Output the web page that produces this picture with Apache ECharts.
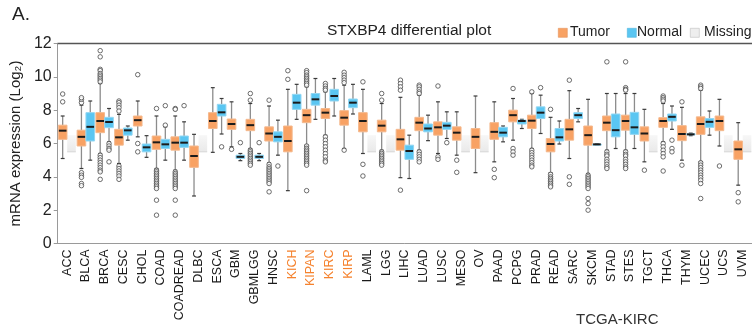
<!DOCTYPE html>
<html>
<head>
<meta charset="utf-8">
<script src="https://cdn.jsdelivr.net/npm/echarts@6/dist/echarts.min.js"></script>
<style>
html, body { margin: 0; padding: 0; background: #fff; }
#chart { width: 752px; height: 325px; }
</style>
</head>
<body>
<div id="chart"></div>
<script>
// cancer types along the x axis
const categories = ['ACC', 'BLCA', 'BRCA', 'CESC', 'CHOL', 'COAD', 'COADREAD', 'DLBC', 'ESCA', 'GBM',
  'GBMLGG', 'HNSC', 'KICH', 'KIPAN', 'KIRC', 'KIRP', 'LAML', 'LGG', 'LIHC', 'LUAD', 'LUSC', 'MESO',
  'OV', 'PAAD', 'PCPG', 'PRAD', 'READ', 'SARC', 'SKCM', 'STAD', 'STES', 'TGCT', 'THCA', 'THYM',
  'UCEC', 'UCS', 'UVM'];
const highlighted = ['KICH', 'KIPAN', 'KIRC', 'KIRP'];

// [min, Q1, median, Q3, max]
const tumorBoxes = [
  [5.1, 6.25, 6.77, 7.1, 7.65],   // ACC
  [4.5, 5.85, 6.4, 6.8, 8.3],     // BLCA
  [5.4, 6.65, 7.35, 7.85, 9.6],   // BRCA
  [4.8, 5.9, 6.37, 6.85, 7.75],   // CESC
  [6.4, 7.05, 7.4, 7.65, 8.55],   // CHOL
  [4.5, 5.65, 6.07, 6.45, 7.65],  // COAD
  [4.4, 5.6, 6.05, 6.4, 7.65],    // COADREAD
  [2.85, 4.57, 5.25, 5.85, 6.55], // DLBC
  [5.47, 6.9, 7.35, 7.85, 9.35],  // ESCA
  [5.8, 6.85, 7.17, 7.47, 8.5],   // GBM
  [5.7, 6.77, 7.1, 7.45, 8.4],    // GBMLGG
  [4.85, 6.15, 6.6, 7.0, 8.25],   // HNSC
  [3.17, 5.5, 6.15, 7.05, 9.25],  // KICH
  [5.9, 7.25, 7.7, 8.05, 9.4],    // KIPAN
  [6.5, 7.5, 7.85, 8.1, 9.1],     // KIRC
  [5.7, 7.1, 7.55, 7.97, 9.5],    // KIRP
  [5.4, 6.7, 7.35, 7.85, 9.25],   // LAML
  [5.6, 6.7, 7.07, 7.4, 8.4],     // LGG
  [3.95, 5.6, 6.25, 6.85, 8.77],  // LIHC
  [5.6, 6.77, 7.25, 7.57, 8.9],   // LUAD
  [5.4, 6.5, 6.97, 7.3, 8.5],     // LUSC
  [5.3, 6.2, 6.65, 7.0, 7.9],     // MESO
  [4.25, 5.7, 6.4, 6.9, 8.85],    // OV
  [4.9, 6.25, 6.7, 7.25, 8.5],    // PAAD
  [6.2, 7.3, 7.7, 8.0, 8.7],      // PCPG
  [5.7, 6.9, 7.37, 7.7, 9.0],     // PRAD
  [4.25, 5.5, 5.97, 6.3, 7.57],   // READ
  [5.1, 6.2, 6.85, 7.45, 9.17],   // SARC
  [4.2, 5.9, 6.5, 7.05, 8.65],    // SKCM
  [5.6, 6.77, 7.25, 7.65, 9.0],   // STAD
  [5.6, 6.8, 7.35, 7.7, 9.0],     // STES
  [4.9, 6.15, 6.6, 7.0, 8.05],    // TGCT
  [6.1, 6.97, 7.35, 7.55, 8.4],   // THCA
  [5.0, 6.17, 6.57, 7.07, 8.17],  // THYM
  [4.9, 6.55, 7.17, 7.6, 9.2],    // UCEC
  [5.85, 6.77, 7.35, 7.65, 8.65], // UCS
  [3.5, 5.05, 5.65, 6.15, 7.25]   // UVM
];

// null = no normal samples (drawn as "Missing")
const normalBoxes = [
  null,
  [5.0, 6.15, 7.0, 7.85, 8.55],
  [6.1, 6.95, 7.29, 7.57, 8.1],
  [6.2, 6.5, 6.79, 6.93, 7.05],
  [5.17, 5.5, 5.77, 5.97, 6.47],
  [5.0, 5.7, 5.95, 6.25, 7.0],
  [5.0, 5.77, 6.05, 6.45, 7.3],
  null,
  [6.57, 7.65, 7.87, 8.35, 8.7],
  [4.97, 5.1, 5.2, 5.3, 5.4],
  [4.97, 5.1, 5.2, 5.3, 5.4],
  [5.3, 6.1, 6.4, 6.7, 7.4],
  [7.45, 8.05, 8.45, 8.95, 9.55],
  [7.45, 8.3, 8.65, 9.0, 9.9],
  [7.65, 8.55, 8.85, 9.25, 9.9],
  [7.77, 8.15, 8.45, 8.67, 9.55],
  null,
  null,
  [3.9, 5.05, 5.55, 5.9, 6.5],
  [6.17, 6.7, 6.9, 7.17, 7.7],
  [6.3, 6.85, 7.07, 7.27, 7.9],
  null,
  null,
  [6.1, 6.4, 6.65, 6.97, 7.05],
  [6.9, 7.17, 7.35, 7.4, 7.45],
  [6.6, 7.5, 7.85, 8.2, 8.9],
  [5.97, 6.15, 6.37, 6.9, 7.35],
  [7.3, 7.5, 7.7, 7.85, 8.1],
  [5.93, 5.94, 5.95, 5.96, 5.97],
  [5.7, 6.4, 6.8, 7.77, 9.0],
  [5.7, 6.55, 6.97, 7.87, 9.0],
  null,
  [6.85, 7.35, 7.6, 7.77, 8.25],
  [6.47, 6.52, 6.55, 6.58, 6.62],
  [6.5, 6.97, 7.3, 7.5, 7.95],
  null,
  null
];

const tumorOutliers = [
  [8.5, 8.97],
  [8.45, 8.65, 8.75, 4.25, 4.1, 3.97, 3.6, 3.47],
  [11.57, 11.2, 10.45, 10.37, 10.2, 10.1, 10.0, 9.9, 9.8, 9.7, 5.3, 5.15, 5.0, 4.85, 4.7, 4.55, 4.4, 4.3, 3.85],
  [8.55, 8.45, 8.3, 8.15, 7.95, 4.65, 4.5, 4.35, 4.2, 4.05, 3.85],
  [10.13, 6.0, 5.5],
  [8.1, 4.4, 4.3, 4.2, 4.1, 4.0, 3.9, 3.8, 3.7, 3.6, 3.5, 3.4, 3.3, 2.6, 1.7],
  [8.1, 8.05, 4.3, 4.2, 4.1, 4.0, 3.9, 3.8, 3.7, 3.6, 3.5, 3.4, 3.3, 2.6, 1.7],
  [],
  [],
  [5.65],
  [9.0, 8.6, 5.6, 5.5, 5.4, 5.3, 5.2, 5.1, 5.0, 4.9, 4.8, 4.7],
  [8.6, 4.75, 4.6, 4.5, 4.4, 4.3, 4.2, 4.1, 4.0, 3.9, 3.8, 3.7, 3.6, 3.1],
  [10.37, 9.85],
  [10.37, 10.25, 10.1, 10.0, 9.9, 9.8, 9.7, 9.6, 9.5, 5.85, 5.7, 5.6, 5.5, 5.4, 5.3, 5.2, 5.1, 5.0, 4.9, 4.8, 4.7, 3.17],
  [9.6, 9.45, 9.3, 9.2, 6.4, 6.2, 6.0, 5.8, 5.6, 5.4, 5.2, 5.0, 4.9],
  [10.27, 10.1, 9.95, 9.8, 9.65, 5.6],
  [9.7, 4.75, 4.05],
  [9.0, 8.6, 5.5, 5.4, 5.3, 5.2, 5.1, 5.0, 4.9, 4.8, 4.7],
  [9.8, 9.6, 9.4, 9.2, 3.2],
  [9.5, 9.4, 9.25, 9.1, 9.0, 5.5, 5.35, 5.2, 5.05, 4.9],
  [9.45, 5.2, 5.05],
  [5.0, 4.27],
  [],
  [4.45, 3.95],
  [9.3, 5.7, 5.5, 5.3],
  [9.1, 5.6, 5.45, 5.3, 5.15, 5.0, 4.85, 4.7, 4.6],
  [8.05, 4.15, 4.0, 3.9, 3.8, 3.7, 3.6, 3.5, 3.4],
  [9.8, 4.0, 3.55],
  [4.1, 4.0, 3.9, 3.8, 3.7, 3.6, 3.5, 3.4, 3.3, 2.7, 2.4, 2.0],
  [10.9, 5.5, 5.35, 5.25, 5.05, 4.9, 4.75, 4.6, 4.5],
  [10.9, 9.35, 9.25, 9.2, 5.5, 5.35, 5.25, 5.05, 4.9, 4.75, 4.6, 4.5],
  [4.4],
  [8.85, 8.75, 8.65, 8.55, 6.0, 5.8, 5.6, 5.4, 5.2, 4.35],
  [8.5, 4.7],
  [9.5, 9.4, 9.3, 4.85, 4.7, 4.55, 4.4, 4.25, 4.1, 3.95, 3.8, 3.6, 2.7],
  [4.65],
  [3.05, 2.5]
];

const normalOutliers = [
  [], [], [6.0, 5.85, 5.7, 5.6, 4.9], [], [], [8.27, 7.1], [8.27], [], [5.8], [6.05],
  [6.05], [4.65], [], [], [], [], [], [], [], [], [6.05], [], [], [], [], [9.35], [], [],
  [], [], [], [], [6.2, 5.7, 5.5], [], [], [], []
];

const missingBand = [5.5, 6.5];

const TUMOR = '#f8a264';
const NORMAL = '#5ac6f2';
const MISSING = '#eeeeee';
const FONT = 'Liberation Sans, Arial, Helvetica, sans-serif';

function boxRenderer(fill, stroke, side) {
  return function (params, api) {
    const idx = api.value(0);
    const band = api.size([1, 0])[0];
    const w = band * 0.46;
    const cx = api.coord([idx, 0])[0] + side * band * 0.235;
    const y = [1, 2, 3, 4, 5].map(k => api.coord([idx, api.value(k)])[1]);
    const cap = w * 0.45;
    const whisker = { stroke: '#8c8c8c', lineWidth: 1.3 };
    const capStyle = { stroke: '#3a3a3a', lineWidth: 1.2 };
    return {
      type: 'group',
      children: [
        { type: 'line', shape: { x1: cx, y1: y[4], x2: cx, y2: y[3] }, style: whisker },
        { type: 'line', shape: { x1: cx, y1: y[1], x2: cx, y2: y[0] }, style: whisker },
        { type: 'line', shape: { x1: cx - cap / 2, y1: y[4], x2: cx + cap / 2, y2: y[4] }, style: capStyle },
        { type: 'line', shape: { x1: cx - cap / 2, y1: y[0], x2: cx + cap / 2, y2: y[0] }, style: capStyle },
        { type: 'rect', shape: { x: cx - w / 2, y: y[3], width: w, height: Math.max(y[1] - y[3], 1) },
          style: { fill: fill, stroke: stroke, lineWidth: 1 } },
        { type: 'line', shape: { x1: cx - w / 2 + 0.5, y1: y[2], x2: cx + w / 2 - 0.5, y2: y[2] },
          style: { stroke: '#1b1b1b', lineWidth: 2 } }
      ]
    };
  };
}

function missingRenderer(params, api) {
  const idx = api.value(0);
  const band = api.size([1, 0])[0];
  const w = band * 0.46;
  const cx = api.coord([idx, 0])[0] + band * 0.235;
  const yLo = api.coord([idx, api.value(1)])[1];
  const yHi = api.coord([idx, api.value(2)])[1];
  return {
    type: 'group',
    children: [
      { type: 'rect', shape: { x: cx - w / 2, y: yHi, width: w, height: yLo - yHi },
        style: { fill: new echarts.graphic.LinearGradient(0, 0, 0, 1, [
          { offset: 0, color: '#f7f7f7' }, { offset: 1, color: '#e9e9e9' }]) } },
      { type: 'line', shape: { x1: cx - w / 2, y1: yLo, x2: cx + w / 2, y2: yLo },
        style: { stroke: '#d6d6d6', lineWidth: 1 } }
    ]
  };
}

const tumorData = tumorBoxes.map((b, i) => [i].concat(b));
const normalData = [];
const missingData = [];
normalBoxes.forEach((b, i) => {
  if (b) normalData.push([i].concat(b));
  else missingData.push([i, missingBand[0], missingBand[1]]);
});
const tumorPts = [];
tumorOutliers.forEach((vals, i) => vals.forEach(v => tumorPts.push([i, v])));
const normalPts = [];
normalOutliers.forEach((vals, i) => vals.forEach(v => normalPts.push([i, v])));

// legend drawn by hand: the source spaces its three keys unevenly
function legendKey(x, textX, label, fill, stroke) {
  return [
    { type: 'rect', left: x, top: 28, shape: { width: 9, height: 9 }, style: { fill: fill, stroke: stroke, lineWidth: 0.6 } },
    { type: 'text', left: textX, top: 25, style: { text: label, fill: '#222', font: '14px ' + FONT } }
  ];
}

const chart = echarts.init(document.getElementById('chart'));
const outlierStyle = { color: '#ffffff', borderColor: '#4a4a4a', borderWidth: 1 };

chart.setOption({
  animation: false,
  textStyle: { fontFamily: FONT },
  grid: { left: 54, right: 0, top: 43.5, height: 200 },
  graphic: [
    { type: 'text', left: 12, top: 5, style: { text: 'A.', fill: '#222', font: '19px ' + FONT } },
    { type: 'text', left: 327, top: 23, style: { text: 'STXBP4 differential plot', fill: '#222', font: '15.5px ' + FONT } },
    { type: 'text', left: 576, top: 312, style: { text: 'TCGA-KIRC', fill: '#333', font: '15px ' + FONT } }
  ].concat(
    legendKey(558, 570, 'Tumor', TUMOR, '#e3925a'),
    legendKey(627, 637, 'Normal', NORMAL, '#4db3dc'),
    legendKey(690, 704, 'Missing', MISSING, '#bdbdbd')
  ),
  xAxis: [
    {
      type: 'category', data: categories,
      axisLine: { lineStyle: { color: '#9a9a9a', width: 1 } },
      axisTick: { length: 3, lineStyle: { color: '#9a9a9a' } },
      axisLabel: {
        rotate: 90, margin: 6, fontSize: 12.5, color: '#1a1a1a', fontFamily: FONT, interval: 0,
        formatter: v => highlighted.includes(v) ? '{hl|' + v + '}' : v,
        rich: { hl: { color: '#f5822e', fontSize: 12.5, fontFamily: FONT } }
      }
    },
    {
      type: 'category', data: categories, position: 'top',
      axisLine: { lineStyle: { color: '#555555', width: 1.3 } },
      axisTick: { show: false }, axisLabel: { show: false }
    }
  ],
  yAxis: {
    type: 'value', min: 0, max: 12, interval: 2,
    name: 'mRNA expression (Log\u2082)', nameLocation: 'middle', nameGap: 28,
    nameTextStyle: { fontSize: 15, color: '#222', fontFamily: FONT },
    axisLine: { show: true, lineStyle: { color: '#9a9a9a' } },
    axisTick: { show: true, length: 4, lineStyle: { color: '#9a9a9a' } },
    axisLabel: { fontSize: 16, color: '#222', margin: 6, fontFamily: FONT },
    splitLine: { show: false }
  },
  series: [
    {
      name: 'Missing', type: 'custom', data: missingData, renderItem: missingRenderer,
      itemStyle: { color: MISSING }, encode: { x: 0, y: [1, 2] }
    },
    {
      name: 'Tumor', type: 'custom', data: tumorData, renderItem: boxRenderer(TUMOR, '#f4b98e', -1),
      itemStyle: { color: TUMOR }, encode: { x: 0, y: [1, 2, 3, 4, 5] }
    },
    {
      name: 'Normal', type: 'custom', data: normalData, renderItem: boxRenderer(NORMAL, '#92d6f2', 1),
      itemStyle: { color: NORMAL }, encode: { x: 0, y: [1, 2, 3, 4, 5] }
    },
    {
      name: 'Tumor outliers', type: 'scatter', data: tumorPts, symbol: 'circle', symbolSize: 4.5,
      symbolOffset: [-4.4, 0], itemStyle: outlierStyle, z: 3
    },
    {
      name: 'Normal outliers', type: 'scatter', data: normalPts, symbol: 'circle', symbolSize: 4.5,
      symbolOffset: [4.4, 0], itemStyle: outlierStyle, z: 3
    }
  ]
});
</script>
</body>
</html>
